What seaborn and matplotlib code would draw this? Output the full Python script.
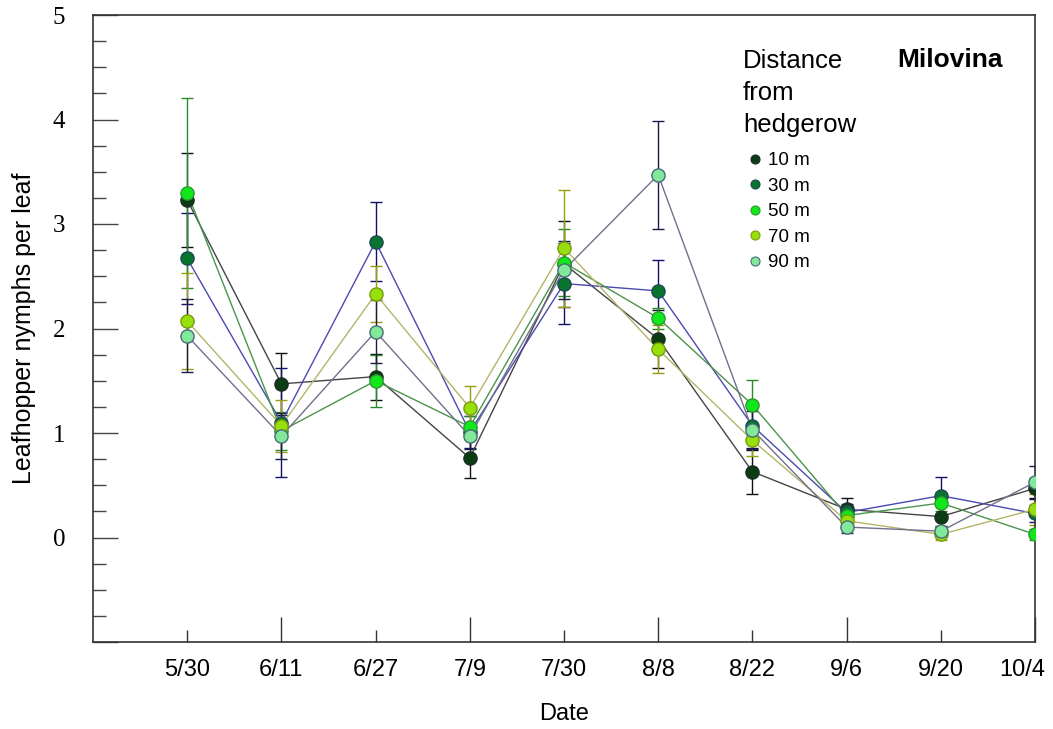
import numpy as np
import matplotlib
matplotlib.use('Agg')
import matplotlib.pyplot as plt
import matplotlib.transforms as mtransforms
from matplotlib.lines import Line2D
import seaborn as sns

# Sampling dates and mean leafhopper nymphs per leaf (+/- SE) by distance
dates = ['5/30', '6/11', '6/27', '7/9', '7/30', '8/8', '8/22', '9/6', '9/20', '10/4']
distances = ['10 m', '30 m', '50 m', '70 m', '90 m']

m10 = [3.23, 1.47, 1.54, 0.76, 2.62, 1.90, 0.63, 0.27, 0.20, 0.47]
e10 = [0.45, 0.30, 0.22, 0.19, 0.41, 0.28, 0.21, 0.11, 0.10, 0.10]
m30 = [2.67, 1.10, 2.83, 1.01, 2.43, 2.36, 1.07, 0.24, 0.40, 0.23]
e30 = [0.44, 0.52, 0.38, 0.15, 0.39, 0.30, 0.21, 0.08, 0.18, 0.08]
m50 = [3.30, 1.02, 1.50, 1.06, 2.63, 2.10, 1.27, 0.21, 0.33, 0.03]
e50 = [0.91, 0.18, 0.25, 0.10, 0.32, 0.10, 0.24, 0.06, 0.08, 0.05]
m70 = [2.07, 1.07, 2.33, 1.24, 2.77, 1.80, 0.93, 0.16, 0.03, 0.27]
e70 = [0.46, 0.25, 0.27, 0.21, 0.56, 0.23, 0.15, 0.05, 0.05, 0.15]
m90 = [1.93, 0.97, 1.97, 0.97, 2.56, 3.47, 1.03, 0.10, 0.06, 0.53]
e90 = [0.35, 0.22, 0.30, 0.12, 0.28, 0.52, 0.18, 0.06, 0.05, 0.15]

means = [m10, m30, m50, m70, m90]
errs = [e10, e30, e50, e70, e90]

# styling per series
fill_colors = ['#0b3d12', '#08752e', '#11e81b', '#96e00c', '#82e89a']
edge_colors = ['#1c2e28', '#1f4a55', '#2a9a30', '#7a9a10', '#4a6a78']
line_colors = ['#444444', '#4a4ab0', '#4a944a', '#b4b46a', '#70708c']
err_colors = ['#111111', '#10106a', '#2a8a2a', '#9c9c10', '#1a1a48']

sns.set_style('white')
plt.rcParams['font.family'] = ['Liberation Sans', 'DejaVu Sans']
plt.rcParams['text.color'] = 'black'
plt.rcParams['axes.labelcolor'] = 'black'
plt.rcParams['xtick.labelcolor'] = 'black'
plt.rcParams['ytick.labelcolor'] = 'black'

fig = plt.figure(figsize=(10.53, 7.29), dpi=100)
ax = fig.add_axes([93 / 1053, 1 - 642 / 729, (1035 - 93) / 1053, (642 - 15) / 729])

x = np.arange(len(dates))

for i in range(len(distances)):
    ax.errorbar(x, means[i], yerr=errs[i], fmt='none', ecolor=err_colors[i],
                elinewidth=1.0, capsize=4, capthick=1.0, zorder=1)
for i in range(len(distances)):
    sns.lineplot(x=x, y=means[i], color=line_colors[i], linewidth=1.0,
                 ax=ax, zorder=2, legend=False)
for i in range(len(distances)):
    sns.scatterplot(x=x, y=means[i], color=fill_colors[i], edgecolor=edge_colors[i],
                    linewidth=1.0, s=90, ax=ax, zorder=3, legend=False)

ax.set_xlim(-1, 9)
ax.set_ylim(-1, 5)

# x ticks: long at odd dates, short at even dates
odd = x[1::2]
even = x[0::2]
ax.set_xticks(odd, [dates[k] for k in odd])
ax.set_xticks(even, [dates[k] for k in even], minor=True)
ax.tick_params(axis='x', which='major', direction='in', length=18, width=1,
               color='#333333', pad=12, labelsize=17, bottom=True, top=False)
ax.tick_params(axis='x', which='minor', direction='in', length=9, width=1,
               color='#333333', pad=12, labelsize=17, bottom=True, top=False)

# shift last label left so it stays in the picture
last = ax.get_xticklabels()[-1]
last.set_transform(last.get_transform() + mtransforms.ScaledTranslation(-13 / 100, 0, fig.dpi_scale_trans))

ax.set_yticks(np.arange(-1, 6), [''] + [str(v) for v in range(0, 6)])
ax.set_yticks(np.arange(-1, 5.01, 0.25), minor=True)
ax.tick_params(axis='y', which='major', direction='in', length=18, width=1,
               color='#444444', pad=20, left=True, right=False)
ax.tick_params(axis='y', which='minor', direction='in', length=9, width=1,
               color='#444444', left=True, right=False)
for lab in ax.get_yticklabels():
    lab.set_family(['Liberation Serif', 'DejaVu Serif'])
    lab.set_fontsize(18)

for sp in ax.spines.values():
    sp.set_color('#333333')
    sp.set_linewidth(1.2)

ax.set_xlabel('Date', fontsize=17, labelpad=16)
ax.set_ylabel('Leafhopper nymphs per leaf', fontsize=18)
ax.yaxis.set_label_coords(-0.061, 0.5)

# legend title as plain text, entries below it
fig.text(743 / 1053, 1 - 49 / 729, 'Distance\nfrom\nhedgerow', fontsize=18.5,
         ha='left', va='top', linespacing=1.42)
handles = [Line2D([], [], ls='', marker='o', ms=6.5, mfc=fill_colors[i],
                  mec=edge_colors[i], mew=0.8) for i in range(len(distances))]
leg = ax.legend(handles, distances, loc='upper left',
                bbox_to_anchor=(743 / 1053, 1 - 152 / 729),
                bbox_transform=fig.transFigure, frameon=False, fontsize=13.5,
                borderpad=0, borderaxespad=0, handlelength=1.25,
                handletextpad=0.1, labelspacing=0.45)

fig.text(897 / 1053, 1 - 60 / 729, 'Milovina', fontsize=19, fontweight='bold',
         ha='left', va='center')

fig.savefig('out.png', dpi=100, facecolor='white')
